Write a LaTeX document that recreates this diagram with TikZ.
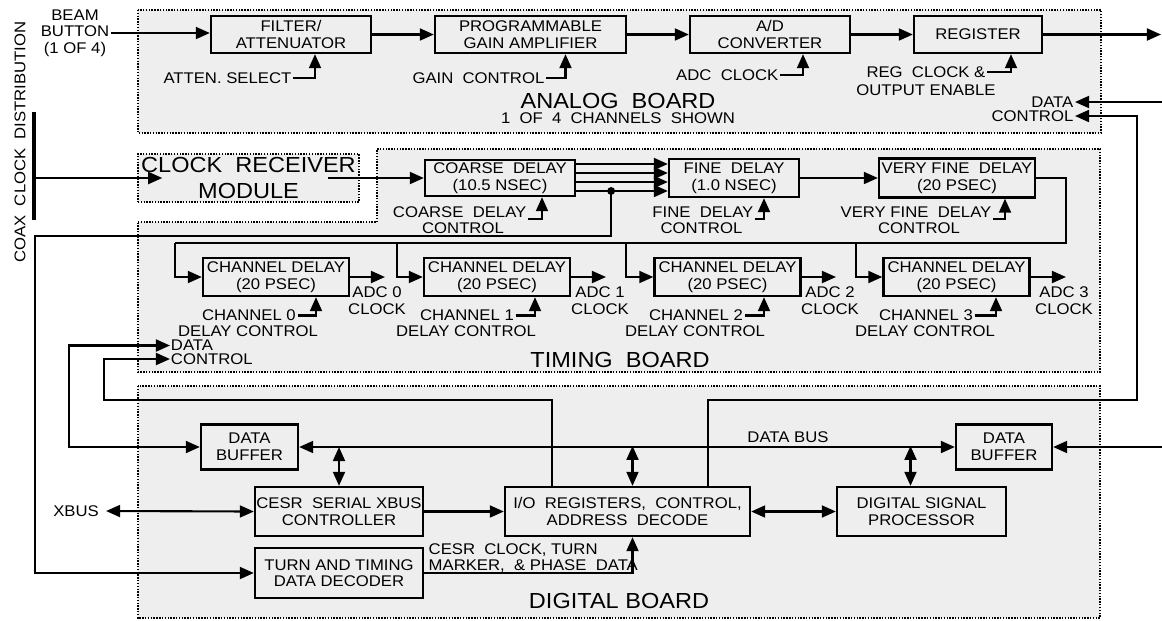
\documentclass[tikz,border=0pt]{standalone}
\usepackage{fontspec}
\setmainfont{Liberation Sans}[FakeStretch=1.08]
\usetikzlibrary{arrows.meta,calc}
\definecolor{BoardGray}{HTML}{EEEEEE}

\begin{document}
\begin{tikzpicture}[
    x=0.025cm, y=-0.025cm,
    font=\fontsize{11pt}{11.8pt}\selectfont,
    box/.style={draw, line width=1.6pt, fill=BoardGray, align=center, inner sep=1pt},
    board/.style={draw, densely dotted, line width=1pt, fill=BoardGray},
    note/.style={inner sep=1pt, align=center},
    boardname/.style={inner sep=1pt, align=center, font=\fontsize{15.5pt}{18pt}\selectfont},
    wire/.style={line width=1.5pt},
    arrow/.style={wire, -{Triangle[length=10pt, width=8.5pt]}},
    twoway/.style={wire, {Triangle[length=10pt, width=8.5pt]}-{Triangle[length=10pt, width=8.5pt]}}
  ]
    \useasboundingbox (0,0) rectangle (1162,620);
    % boards
    \draw[board] (138,10) rectangle (1101,133);
    \draw[board] (138,222) -- (377,222) -- (377,149) -- (1100,149) -- (1100,372) -- (138,372) -- cycle;
    \draw[board] (138,386) rectangle (1100,618);
    \node[boardname] (analog) at (618,101) {ANALOG~ BOARD};
    \node[note] (analogsub) at (618,118) {1~ OF~ 4~ CHANNELS~ SHOWN};
    \node[boardname] (timing) at (620,360) {TIMING~ BOARD};
    \node[boardname] (digital) at (619,601) {DIGITAL BOARD};

    % analog board
    \node[note] (beam) at (75,33) {BEAM\\BUTTON\\(1 OF 4)};
    \node[box, minimum width=4cm, minimum height=0.925cm] (filt) at (291,34.5) {FILTER/\\ATTENUATOR};
    \node[box, minimum width=4.775cm, minimum height=0.925cm] (pga) at (530.5,34.5) {PROGRAMMABLE\\GAIN AMPLIFIER};
    \node[box, minimum width=4cm, minimum height=0.925cm] (adc) at (770,34.5) {A/D\\CONVERTER};
    \node[box, minimum width=3.2cm, minimum height=0.925cm] (reg) at (978,34.5) {REGISTER};
    \node[note, anchor=east] (attsel) at (293,78) {ATTEN. SELECT};
    \node[note, anchor=east] (gainctl) at (546,78) {GAIN~ CONTROL};
    \node[note, anchor=east] (adcclk) at (780,75) {ADC~ CLOCK};
    \node[note, anchor=east] (regclk) at (987,72) {REG~ CLOCK \&};
    \node[note] (regoe) at (926,90) {OUTPUT ENABLE};
    \node[note, anchor=east] (adata) at (1075,102) {DATA};
    \node[note, anchor=east] (actl) at (1075,116) {CONTROL};
    \coordinate (regout) at (1161,34.5);
    \coordinate (adatain) at (1162,102);

    \draw[arrow] (beam.east) -- (filt.west |- beam.east);
    \draw[arrow] (filt) -- (pga);
    \draw[arrow] (pga) -- (adc);
    \draw[arrow] (adc) -- (reg);
    \draw[arrow] (reg) -- (regout);
    \draw[arrow] (attsel.east) -| ($(filt.south)+(24,0)$);
    \draw[arrow] (gainctl.east) -| ($(pga.south)+(35,0)$);
    \draw[arrow] (adcclk.east) -| ($(adc.south)+(33,0)$);
    \draw[arrow] (regclk.east) -| ($(reg.south)+(33,0)$);
    \draw[arrow] (adatain) -- (adata.east);

    % clock distribution
    \node[fill, inner sep=0pt, minimum width=2.6pt, minimum height=2.7cm] (coax) at (34,166) {};
    \node[note, rotate=90] (coaxlbl) at (20,142) {COAX~ CLOCK~ DISTRIBUTION};
    \node[board, boardname, minimum width=5.525cm, minimum height=1.2cm] (crm) at (248.5,178) {CLOCK~ RECEIVER\\MODULE};
    \node[box, minimum width=3.75cm, minimum height=0.9cm] (coarse) at (500,178) {COARSE~ DELAY\\(10.5 NSEC)};
    \node[box, minimum width=3.25cm, minimum height=0.95cm] (fine) at (734,178) {FINE~ DELAY\\(1.0 NSEC)};
    \node[box, minimum width=3.9cm, minimum height=0.975cm] (vfine) at (957,178) {VERY FINE~ DELAY\\(20 PSEC)};
    \node[note, anchor=east] (coarsectl) at (528,212) {COARSE~ DELAY};
    \node[note] (coarsectlb) at (463,228) {CONTROL};
    \node[note, anchor=east] (finectl) at (755,212) {FINE~ DELAY};
    \node[note] (finectlb) at (701.5,228) {CONTROL};
    \node[note, anchor=east] (vfinectl) at (993,212) {VERY FINE~ DELAY};
    \node[note] (vfinectlb) at (919,228) {CONTROL};
    \coordinate (tap) at ($(coarse.east)+(35,13)$);

    \draw[arrow] (coax.east |- crm) -- ($(crm.west)+(25,0)$);
    \draw[arrow] ($(crm.east)+(-32,0)$) -- (coarse.west);
    \draw[arrow] ($(coarse.east)+(0,-14)$) -- ($(fine.west)+(0,-14)$);
    \draw[arrow] ($(coarse.east)+(0,-5)$) -- ($(fine.west)+(0,-5)$);
    \draw[arrow] ($(coarse.east)+(0,4)$) -- ($(fine.west)+(0,4)$);
    \draw[arrow] ($(coarse.east)+(0,13)$) -- ($(fine.west)+(0,13)$);
    \fill (tap) circle (2.8pt);
    \draw[arrow] (fine) -- (vfine);
    \draw[arrow] (coarsectl.south east) -| ($(coarse.south)+(42,0)$);
    \draw[arrow] (finectl.south east) -| ($(fine.south)+(30,0)$);
    \draw[arrow] (vfinectl.south east) -| ($(vfine.south)+(48,0)$);

    % channel delays
    \node[box, minimum width=3.65cm, minimum height=0.95cm] (ch0) at (276,277) {CHANNEL DELAY\\(20 PSEC)};
    \node[box, minimum width=3.65cm, minimum height=0.95cm] (ch1) at (497,277) {CHANNEL DELAY\\(20 PSEC)};
    \node[box, minimum width=3.65cm, minimum height=0.95cm] (ch2) at (727.5,277) {CHANNEL DELAY\\(20 PSEC)};
    \node[box, minimum width=3.65cm, minimum height=0.95cm] (ch3) at (956.5,277) {CHANNEL DELAY\\(20 PSEC)};
    \node[note, anchor=east] (ch0ctl) at (297.5,315.5) {CHANNEL 0};
    \node[note, anchor=east] (ch1ctl) at (515.5,315.5) {CHANNEL 1};
    \node[note, anchor=east] (ch2ctl) at (744.5,315.5) {CHANNEL 2};
    \node[note, anchor=east] (ch3ctl) at (974.5,315.5) {CHANNEL 3};
    \node[note] (ch0ctlb) at (248,331) {DELAY CONTROL};
    \node[note] (ch1ctlb) at (466,331) {DELAY CONTROL};
    \node[note] (ch2ctlb) at (695,331) {DELAY CONTROL};
    \node[note] (ch3ctlb) at (925,331) {DELAY CONTROL};
    \node[note] (adc0lbl) at (377,300.5) {ADC 0\\CLOCK};
    \node[note] (adc1lbl) at (600,300.5) {ADC 1\\CLOCK};
    \node[note] (adc2lbl) at (830,300.5) {ADC 2\\CLOCK};
    \node[note] (adc3lbl) at (1064,300.5) {ADC 3\\CLOCK};
    \coordinate (clkbus) at (1066,243);
    \coordinate (adc0) at (385,277);
    \coordinate (adc1) at (606,277);
    \coordinate (adc2) at (836,277);
    \coordinate (adc3) at (1066,277);

    \draw[wire] (vfine.east) -| (clkbus) -- (clkbus -| ch0.west) -- ++(-27,0);
    \draw[arrow] (clkbus -| ch0.west) ++(-27,0) |- (ch0.west);
    \draw[arrow] (clkbus -| ch1.west) ++(-26,0) |- (ch1.west);
    \draw[arrow] (clkbus -| ch2.west) ++(-27,0) |- (ch2.west);
    \draw[arrow] (clkbus -| ch3.west) ++(-26,0) |- (ch3.west);
    \draw[arrow] (ch0) -- (adc0);
    \draw[arrow] (ch1) -- (adc1);
    \draw[arrow] (ch2) -- (adc2);
    \draw[arrow] (ch3) -- (adc3);
    \draw[arrow] (ch0ctl.east) -| ($(ch0.south)+(40,0)$);
    \draw[arrow] (ch1ctl.east) -| ($(ch1.south)+(38,0)$);
    \draw[arrow] (ch2ctl.east) -| ($(ch2.south)+(36.5,0)$);
    \draw[arrow] (ch3ctl.east) -| ($(ch3.south)+(39.5,0)$);
    \node[note, inner sep=0.5pt, anchor=west] (tdata) at (170,345.5) {DATA};
    \node[note, inner sep=0.5pt, anchor=west] (tctl) at (170,359) {CONTROL};

    % digital board
    \node[box, minimum width=2.425cm, minimum height=1.125cm] (bufl) at (249.5,447) {DATA\\BUFFER};
    \node[box, minimum width=2.4cm, minimum height=1.125cm] (bufr) at (1004,447) {DATA\\BUFFER};
    \node[box, minimum width=4.2cm, minimum height=1.225cm] (cesr) at (339,511.5) {CESR~ SERIAL XBUS\\CONTROLLER};
    \node[box, minimum width=4.2cm, minimum height=1.25cm] (turn) at (339,573) {TURN AND TIMING\\DATA DECODER};
    \node[box, minimum width=6.125cm, minimum height=1.225cm] (io) at (627.5,511.5) {I/O~ REGISTERS,~ CONTROL,\\ADDRESS~ DECODE};
    \node[box, minimum width=4.225cm, minimum height=1.225cm] (dsp) at (921.5,511.5) {DIGITAL SIGNAL\\PROCESSOR};
    \node[note] (xbus) at (76,511) {XBUS};
    \node[note] (busname) at (788,437) {DATA BUS};
    \node[note, anchor=west] (cesrclk) at (427,550) {CESR~ CLOCK, TURN};
    \node[note, anchor=west] (cesrclkb) at (427,566) {MARKER,~ \& PHASE~ DATA};
    \coordinate (bufin) at (1162,447);

    \draw[twoway] (bufl) -- (bufr);
    \draw[arrow] (bufin) -- (bufr.east);
    \draw[twoway] (cesr.north) -- (cesr.north |- bufl.east);
    \draw[twoway] ($(io.north)+(5,0)$) -- ($(io.north)+(5,-40)$);
    \draw[twoway] ($(dsp.north)+(-11,0)$) -- ($(dsp.north)+(-11,-40)$);
    \draw[twoway] ([xshift=4pt]xbus.east) -- (cesr.west);
    \draw[arrow] (cesr) -- (io);
    \draw[twoway] (io) -- (dsp);
    \draw[arrow] (turn.east) -| ($(io.south)+(5,0)$);
    \draw[arrow] (tap) |- (35,236) |- (turn.west);
    \draw[twoway] (tdata.west) -| (69,447) -- (bufl.west);
    \draw[arrow] ($(io.north west)+(48,0)$) |- (104,400) |- (tctl.west);
    \draw[arrow] ($(io.north east)+(-43,0)$) |- (1137,400) |- (actl.east);
  \end{tikzpicture}
\end{document}
